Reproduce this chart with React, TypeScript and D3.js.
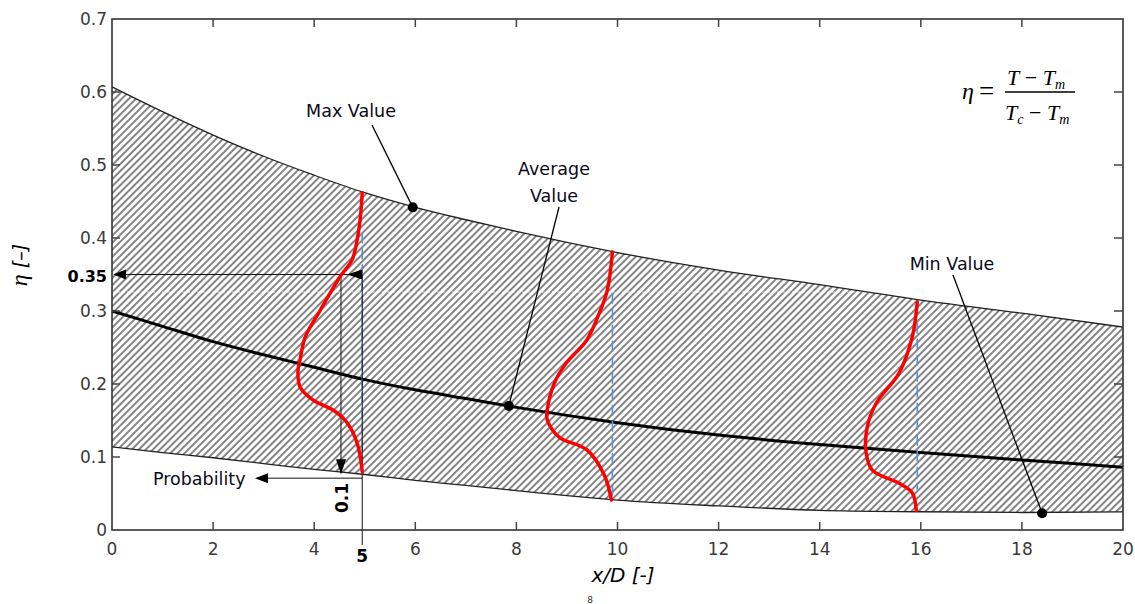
import React from "react";
import * as d3 from "d3";

// ---------- data ----------
const xTickValues = [0, 2, 4, 6, 8, 10, 12, 14, 16, 18, 20];
const xTickLabels = ["0", "2", "4", "6", "8", "10", "12", "14", "16", "18", "20"];
const yTickValues = [0, 0.1, 0.2, 0.3, 0.4, 0.5, 0.6, 0.7];
const yTickLabels = ["0", "0.1", "0.2", "0.3", "0.4", "0.5", "0.6", "0.7"];

const bandX = [0, 1, 2, 3, 4, 5, 6, 7, 8, 9, 10, 12, 14, 16, 18, 20];
const maxValue = [0.607, 0.573, 0.541, 0.512, 0.486, 0.462, 0.442, 0.425, 0.409, 0.394, 0.380, 0.356, 0.336, 0.315, 0.297, 0.278];
const minValue = [0.114, 0.106, 0.099, 0.091, 0.083, 0.076, 0.068, 0.061, 0.054, 0.047, 0.041, 0.033, 0.027, 0.025, 0.024, 0.025];
const avgValue = [0.300, 0.279, 0.258, 0.240, 0.223, 0.206, 0.192, 0.180, 0.168, 0.157, 0.147, 0.130, 0.117, 0.106, 0.096, 0.086];

const pdfStations = [4.95, 9.9, 15.93];
const pdf5Eta = [0.462, 0.415, 0.370, 0.349, 0.301, 0.264, 0.233, 0.219, 0.196, 0.178, 0.164, 0.147, 0.119, 0.080];
const pdf5Offset = [0, 0.06, 0.2, 0.42, 0.83, 1.13, 1.23, 1.27, 1.23, 0.97, 0.57, 0.3, 0.1, 0];
const pdf10Eta = [0.381, 0.329, 0.297, 0.260, 0.229, 0.201, 0.164, 0.151, 0.127, 0.110, 0.075, 0.041];
const pdf10Offset = [0, 0.1, 0.26, 0.51, 0.91, 1.15, 1.29, 1.29, 1.05, 0.51, 0.16, 0.02];
const pdf16Eta = [0.312, 0.264, 0.215, 0.174, 0.141, 0.105, 0.082, 0.064, 0.051, 0.027];
const pdf16Offset = [0, 0.1, 0.36, 0.81, 0.99, 1.01, 0.89, 0.36, 0.1, 0.02];
const guideTop = [0.408, 0.325, 0.284];
const guideBottom = [0.076, 0.041, 0.055];

const probEta = 0.35;
const probLevel = 0.071;
const probX = 4.53;

const dotX = [5.95, 7.85, 18.4];
const dotEta = [0.442, 0.170, 0.023];

// ---------- layout ----------
const W = 1135;
const H = 604;
const x = d3.scaleLinear().domain([0, 20]).range([112, 1123]);
const y = d3.scaleLinear().domain([0, 0.7]).range([530, 19]);

const SANS = "'DejaVu Sans', Verdana, sans-serif";
const SERIF = "'Liberation Serif', 'Times New Roman', serif";

export default function App() {
  const pts = bandX.map((v, i) => ({ x: v, max: maxValue[i], min: minValue[i], avg: avgValue[i] }));
  const area = d3
    .area<any>()
    .x((d) => x(d.x))
    .y0((d) => y(d.min))
    .y1((d) => y(d.max))
    .curve(d3.curveMonotoneX);
  const lineMax = d3.line<any>().x((d) => x(d.x)).y((d) => y(d.max)).curve(d3.curveMonotoneX);
  const lineMin = d3.line<any>().x((d) => x(d.x)).y((d) => y(d.min)).curve(d3.curveMonotoneX);
  const lineAvg = d3.line<any>().x((d) => x(d.x)).y((d) => y(d.avg)).curve(d3.curveMonotoneX);

  const pdfs = [
    { st: pdfStations[0], eta: pdf5Eta, off: pdf5Offset },
    { st: pdfStations[1], eta: pdf10Eta, off: pdf10Offset },
    { st: pdfStations[2], eta: pdf16Eta, off: pdf16Offset },
  ];
  const pdfLine = (p: any) =>
    d3
      .line<number>()
      .x((_, i) => x(p.st - p.off[i]))
      .y((e) => y(e))
      .curve(d3.curveCatmullRom.alpha(0.5))(p.eta) as string;

  const arrowLeft = (tx: number, ty: number, len = 13, hw = 5) =>
    `M${tx},${ty} L${tx + len},${ty - hw} L${tx + len},${ty + hw} Z`;
  const arrowDown = (tx: number, ty: number, len = 15, hw = 5) =>
    `M${tx},${ty} L${tx - hw},${ty - len} L${tx + hw},${ty - len} Z`;

  const x5 = x(pdfStations[0]);
  const yProb = y(probEta);
  const yLevel = y(probLevel);
  const xProb = x(probX);

  const labelLines = [
    { from: [372, 125], i: 0 },
    { from: [559, 207], i: 1 },
    { from: [953, 275], i: 2 },
  ];

  return (
    <svg
      width={W}
      height={H}
      style={{ position: "absolute", left: 0, top: 0, background: "#fff" }}
      xmlns="http://www.w3.org/2000/svg"
    >
      <defs>
        <pattern id="hatch" width="5" height="5" patternUnits="userSpaceOnUse" patternTransform="rotate(45)">
          <line x1="1" y1="-1" x2="1" y2="6" stroke="#333" strokeWidth="1.2" />
        </pattern>
      </defs>
      <rect x={0} y={0} width={W} height={H} fill="#fff" />

      {/* hatched band */}
      <path d={area(pts) as string} fill="url(#hatch)" />
      <line x1={x(0)} x2={x(20)} y1={y(0.326)} y2={y(0.326)} stroke="#fff" strokeWidth={1} strokeDasharray="3 2" opacity={0.75} />
      <path d={lineMax(pts) as string} fill="none" stroke="#222" strokeWidth={1.3} />
      <path d={lineMin(pts) as string} fill="none" stroke="#222" strokeWidth={1.3} />
      <path d={lineAvg(pts) as string} fill="none" stroke="#000" strokeWidth={3} />

      {/* blue guides */}
      {pdfStations.map((s, i) => (
        <line
          key={"g" + i}
          x1={x(s)}
          x2={x(s)}
          y1={y(guideTop[i])}
          y2={y(guideBottom[i])}
          stroke="#5b8fd6"
          strokeWidth={1.6}
          strokeDasharray="11 5"
        />
      ))}

      {/* probability construction at x=5 */}
      <line x1={x5} x2={x5} y1={yProb} y2={545} stroke="#111" strokeWidth={1} />
      <line x1={x(0) + 2} x2={x5} y1={yProb} y2={yProb} stroke="#111" strokeWidth={1} />
      <path d={arrowLeft(x(0) + 1, yProb)} fill="#000" />
      <path d={arrowLeft(x5 - 15, yProb, 15)} fill="#000" />
      <line x1={xProb} x2={xProb} y1={yProb} y2={yLevel - 5} stroke="#111" strokeWidth={1} />
      <path d={arrowDown(xProb, yLevel - 4)} fill="#000" />
      <line x1={257} x2={x5} y1={yLevel} y2={yLevel} stroke="#111" strokeWidth={1} />
      <path d={arrowLeft(255, yLevel)} fill="#000" />

      {/* pdf curves */}
      {pdfs.map((p, i) => (
        <path key={"p" + i} d={pdfLine(p)} fill="none" stroke="#ff0000" strokeWidth={3.5} strokeLinecap="round" />
      ))}

      {/* frame */}
      <rect x={x(0)} y={y(0.7)} width={x(20) - x(0)} height={y(0) - y(0.7)} fill="none" stroke="#333" strokeWidth={1.6} />
      {xTickValues.slice(1, -1).map((v) => (
        <g key={"xt" + v} stroke="#444" strokeWidth={1.5}>
          <line x1={x(v)} x2={x(v)} y1={y(0)} y2={y(0) - 8} />
          <line x1={x(v)} x2={x(v)} y1={y(0.7)} y2={y(0.7) + 8} />
        </g>
      ))}
      {yTickValues.slice(1, -1).map((v) => (
        <g key={"yt" + v} stroke="#444" strokeWidth={1.5}>
          <line x1={x(0)} x2={x(0) + 8} y1={y(v)} y2={y(v)} />
          <line x1={x(20)} x2={x(20) - 9} y1={y(v)} y2={y(v)} />
        </g>
      ))}

      {/* tick labels */}
      {xTickValues.map((v, i) => (
        <text key={"xl" + v} x={x(v)} y={555} textAnchor="middle" fontFamily={SANS} fontSize={17} fill="#3a3a3a">
          {xTickLabels[i]}
        </text>
      ))}
      {yTickValues.map((v, i) => (
        <text key={"yl" + v} x={107} y={y(v) + 6} textAnchor="end" fontFamily={SANS} fontSize={17} fill="#3a3a3a">
          {yTickLabels[i]}
        </text>
      ))}

      {/* annotation labels */}
      <text x={107} y={yProb + 7} textAnchor="end" fontFamily={SANS} fontSize={16} fontWeight="bold" fill="#000">
        0.35
      </text>
      <text
        transform={`translate(${xProb + 7},${498}) rotate(-90)`}
        textAnchor="middle"
        fontFamily={SANS}
        fontSize={17}
        fontWeight="bold"
        fill="#000"
      >
        0.1
      </text>
      <text x={x5} y={562} textAnchor="middle" fontFamily={SANS} fontSize={17} fontWeight="bold" fill="#000">
        5
      </text>
      <text x={153} y={485} fontFamily={SANS} fontSize={17.5} fill="#0a0a1a">
        Probability
      </text>

      {labelLines.map((l) => (
        <g key={"ll" + l.i}>
          <line x1={l.from[0]} y1={l.from[1]} x2={x(dotX[l.i])} y2={y(dotEta[l.i])} stroke="#000" strokeWidth={1.3} />
          <circle cx={x(dotX[l.i])} cy={y(dotEta[l.i])} r={5} fill="#000" />
        </g>
      ))}
      <text x={351} y={117} textAnchor="middle" fontFamily={SANS} fontSize={17.5} fill="#0a0a1a">
        Max Value
      </text>
      <text x={554} y={175} textAnchor="middle" fontFamily={SANS} fontSize={17.5} fill="#0a0a1a">
        Average
      </text>
      <text x={554} y={202} textAnchor="middle" fontFamily={SANS} fontSize={17.5} fill="#0a0a1a">
        Value
      </text>
      <text x={952} y={270} textAnchor="middle" fontFamily={SANS} fontSize={17.5} fill="#0a0a1a">
        Min Value
      </text>

      {/* formula */}
      <text x={962} y={99} fontFamily={SERIF} fontSize={24} fontStyle="italic" fill="#000">
        η
      </text>
      <text x={979} y={100} fontFamily={SERIF} fontSize={27} fill="#000">
        =
      </text>
      <text x={1007} y={85} fontFamily={SERIF} fontSize={22} fontStyle="italic" fill="#000">
        <tspan>T</tspan>
        <tspan fontStyle="normal"> − </tspan>
        <tspan>T</tspan>
        <tspan fontSize={14} dy={4}>m</tspan>
      </text>
      <line x1={1005} x2={1075} y1={92} y2={92} stroke="#000" strokeWidth={1.3} />
      <text x={1005} y={120} fontFamily={SERIF} fontSize={22} fontStyle="italic" fill="#000">
        <tspan>T</tspan>
        <tspan fontSize={14} dy={4}>c</tspan>
        <tspan fontStyle="normal" dy={-4}> − </tspan>
        <tspan>T</tspan>
        <tspan fontSize={14} dy={4}>m</tspan>
      </text>

      {/* axis titles */}
      <text
        transform="translate(27,265) rotate(-90)"
        textAnchor="middle"
        fontFamily={SERIF}
        fontSize={24}
        fontStyle="italic"
        fill="#000"
      >
        <tspan>η</tspan>
        <tspan fontFamily={SANS} fontSize={19}> [–]</tspan>
      </text>
      <text x={623} y={582} textAnchor="middle" fontFamily={SANS} fontSize={20} fontStyle="italic" fill="#000">
        x/D [-]
      </text>
      <text x={590} y={603} textAnchor="middle" fontFamily={SANS} fontSize={9} fill="#333">
        8
      </text>
    </svg>
  );
}
